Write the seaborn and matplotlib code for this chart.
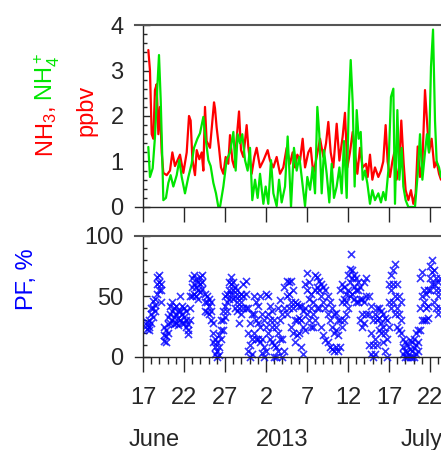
import numpy as np
import pandas as pd
import matplotlib
matplotlib.use("Agg")
import matplotlib.pyplot as plt
import seaborn as sns
from matplotlib.ticker import MultipleLocator, FixedLocator

# ---------------- data (days since 17 June 2013) ----------------
nh3_day = [0.65, 0.85, 1.06, 1.26, 1.46, 1.67, 1.87, 2.07, 2.28, 2.48, 2.89, 3.29, 3.58, 3.9,
           4.51, 4.92, 5.33, 5.61, 5.81, 6.02, 6.34, 6.55, 6.87, 7.16, 7.36, 7.56, 7.76, 8.17,
           8.66, 8.78, 8.98, 9.27, 9.51, 9.8, 10.08, 10.4, 10.61, 10.9, 11.14, 11.42, 11.71,
           11.95, 12.24, 12.64, 12.85, 13.25, 13.58, 13.86, 14.27, 14.68, 15.2, 15.49, 15.9,
           16.3, 16.71, 17.11, 17.52, 17.93, 18.25, 18.54, 18.82, 19.15, 19.47, 19.76, 20.16,
           20.45, 20.77, 21.18, 21.59, 22.0, 22.32, 22.6, 22.89, 23.21, 23.62, 23.95, 24.35,
           24.63, 24.92, 25.24, 25.57, 25.85, 26.14, 26.46, 26.79, 27.2, 27.4, 27.68, 27.97,
           28.29, 28.7, 29.02, 29.3, 29.59, 29.83, 30.12, 30.41, 30.65, 30.93, 31.22, 31.5,
           31.79, 32.03, 32.36, 32.68, 32.97, 33.25, 33.5, 33.78, 34.07, 34.39, 34.63, 34.88,
           35.2, 35.53, 35.81, 36.1, 36.34]
nh3_ppbv = [3.45, 3.0, 1.6, 1.5, 2.57, 2.7, 1.6, 2.2, 1.2, 0.75, 0.7, 0.8, 1.2, 0.9,
            1.15, 0.75, 1.2, 2.0, 1.9, 1.05, 0.7, 1.25, 1.05, 1.2, 0.8, 2.2, 1.45, 1.3,
            2.3, 2.17, 1.75, 1.3, 0.87, 0.73, 1.1, 0.95, 1.58, 1.02, 0.87, 1.5, 2.1,
            1.25, 1.1, 1.8, 1.3, 0.73, 1.1, 1.3, 0.87, 1.02, 1.25, 1.02, 0.87,
            1.1, 0.73, 0.87, 1.3, 0.95, 1.2, 0.87, 1.15, 1.02, 1.5, 0.87, 1.2,
            1.3, 0.73, 1.1, 1.5, 1.1, 1.4, 1.87, 1.2, 0.87, 1.83, 1.02, 1.55,
            2.07, 0.87, 1.2, 1.65, 1.2, 0.73, 1.3, 0.87, 0.95, 0.66, 1.15, 0.6,
            0.87, 0.66, 0.8, 1.0, 1.8, 1.0, 0.66, 1.0, 1.2, 0.6, 0.87, 1.9,
            0.95, 0.37, 0.15, 0.37, 0.07, 0.3, 1.33, 0.66, 0.95, 2.57, 1.9, 1.2,
            1.5, 0.87, 1.0, 0.73, 0.6]

nh4_day = [0.65, 0.85, 1.18, 1.46, 1.75, 1.95, 2.16, 2.32, 2.48, 2.8, 3.09, 3.37, 3.7, 4.11,
           4.43, 4.72, 5.12, 5.53, 5.93, 6.22, 6.63, 6.95, 7.36, 7.56, 7.97, 8.25, 8.58, 8.9,
           9.19, 9.39, 9.8, 10.2, 10.61, 11.02, 11.3, 11.54, 11.83, 12.11, 12.44, 12.76, 13.05,
           13.33, 13.66, 13.98, 14.27, 14.68, 14.96, 15.28, 15.61, 15.9, 16.3, 16.59, 16.91,
           17.32, 17.64, 17.85, 18.05, 18.41, 18.74, 19.07, 19.35, 19.76, 20.04, 20.37, 20.69,
           20.98, 21.26, 21.5, 21.79, 22.07, 22.4, 22.72, 23.01, 23.29, 23.62, 23.95, 24.23,
           24.51, 24.84, 25.08, 25.33, 25.57, 25.81, 26.06, 26.3, 26.55, 26.79, 27.07, 27.36,
           27.68, 27.97, 28.29, 28.7, 29.02, 29.3, 29.59, 29.92, 30.24, 30.53, 30.73, 31.02,
           31.26, 31.54, 31.75, 32.03, 32.36, 32.76, 33.17, 33.5, 33.78, 34.07, 34.39, 34.63,
           34.88, 35.12, 35.37, 35.61, 35.81, 36.1, 36.34]
nh4_ppbv = [1.32, 0.66, 0.85, 1.54, 2.64, 3.34, 2.35, 1.3, 0.15, 0.2, 0.53, 0.7, 0.45, 0.7,
            1.03, 0.66, 0.3, 0.66, 0.95, 1.3, 1.5, 1.62, 1.98, 1.62, 1.03, 0.9, 0.53, 0.3,
            0.0, 0.0, 0.45, 1.03, 1.2, 1.65, 0.8, 1.6, 1.4, 1.6, 1.03, 0.8, 1.3,
            0.15, 0.6, 0.2, 0.73, 0.07, 0.45, 0.07, 1.03, 0.3, 0.02, 0.6, 0.1,
            0.45, 1.55, 0.8, 0.0, 1.3, 0.8, 1.1, 0.66, 0.02, 0.66, 0.38, 0.87,
            0.3, 2.2, 1.6, 0.3, 1.25, 0.73, 0.1, 0.95, 0.2, 0.45, 0.87, 0.3,
            1.45, 0.2, 2.13, 3.23, 2.3, 0.45, 2.13, 1.5, 1.65, 0.6, 0.8, 0.52,
            0.07, 0.37, 0.15, 0.3, 0.1, 0.33, 0.15, 0.8, 2.42, 2.6, 0.07, 2.13,
            0.6, 1.3, 0.45, 0.15, 0.0, 0.0, 0.0, 0.73, 1.6, 0.6, 1.2, 1.6,
            1.2, 3.08, 3.9, 1.9, 1.0, 0.87, 0.66]

# PF (%) read every 6 h: central value and lower/upper edge of the point cloud
pf_day = np.arange(0.5, 36.26, 0.25)
pf_mid = [26, 25,
          35, 40, 43, 60,  62, 55, 18, 17,  27, 35, 38, 33,  35, 32, 38, 35,
          33, 30, 22, 40,  58, 60, 58, 55,  60, 62, 45, 45,  42, 38, 20, 8,
          5, 8, 22, 30,    42, 45, 55, 60,  55, 50, 45, 40,  45, 50, 52, 20,
          10, 15, 35, 30,  28, 25, 15, 8,   25, 35, 30, 25,  10, 8, 20, 30,
          15, 40, 50, 52,  45, 40, 30, 30,  32, 30, 25, 40,  55, 48, 40, 35,
          55, 58, 55, 50,  45, 40, 35, 30,  25, 20, 22, 18,  30, 45, 48, 45,
          55, 62, 65, 58,  55, 55, 48, 35,  45, 50, 35, 20,  10, 15, 30, 32,
          28, 25, 20, 15,  45, 55, 60, 50,  40, 35, 30, 8,   5, 4, 6, 5,
          7, 10, 12, 40,   50, 45, 40, 42,  65, 70, 60, 55,
          50, 55]
pf_lo = [23, 22,
         28, 33, 38, 52,  55, 45, 13, 12,  20, 28, 30, 27,  28, 26, 30, 28,
         28, 25, 19, 30,  50, 52, 50, 48,  54, 56, 38, 37,  35, 30, 12, 2,
         0, 1, 15, 22,    33, 38, 48, 52,  48, 40, 38, 28,  35, 40, 40, 5,
         0, 2, 20, 15,    15, 12, 3, 0,    5, 20, 15, 12,   0, 0, 5, 15,
         0, 5, 35, 40,    25, 20, 12, 18,  20, 8, 2, 22,    35, 30, 25, 25,
         30, 40, 40, 25,  18, 14, 12, 8,   6, 5, 8, 5,      8, 25, 30, 35,
         40, 50, 52, 48,  45, 45, 30, 25,  28, 35, 10, 2,   0, 2, 10, 22,
         20, 12, 5, 0,    25, 40, 45, 35,  25, 22, 20, 2,   0, 0, 0, 0,
         0, 2, 5, 22,     30, 30, 30, 32,  55, 60, 45, 40,
         35, 40]
pf_hi = [29, 30,
         40, 46, 48, 66,  68, 60, 25, 22,  33, 42, 45, 40,  42, 38, 50, 42,
         40, 38, 27, 50,  65, 68, 64, 62,  66, 68, 52, 50,  48, 45, 28, 15,
         12, 18, 30, 38,  50, 52, 62, 66,  62, 58, 55, 50,  52, 60, 63, 40,
         28, 35, 50, 45,  42, 50, 35, 30,  52, 50, 42, 38,  30, 25, 40, 47,
         35, 58, 63, 62,  63, 55, 45, 44,  42, 42, 38, 60,  69, 62, 52, 45,
         68, 66, 63, 60,  58, 55, 50, 45,  40, 35, 36, 30,  55, 60, 58, 52,
         68, 73, 72, 68,  65, 62, 58, 48,  62, 65, 50, 42,  30, 35, 40, 40,
         38, 35, 32, 30,  60, 68, 72, 77,  60, 50, 45, 15,  12, 10, 14, 12,
         15, 20, 22, 65,  70, 55, 52, 55,  75, 80, 72, 65,
         62, 65]
pf_extra_day = [25.4]
pf_extra_val = [85]

xtick_days = [0, 5, 10, 15, 20, 25, 30, 35]
xtick_labels = ["17", "22", "27", "2", "7", "12", "17", "22"]
month_labels = ["June", "2013", "July"]

# ---------------- figure ----------------
sns.set_style("ticks")
plt.rcParams['font.family'] = ['Liberation Sans', 'DejaVu Sans']
plt.rcParams['mathtext.fontset'] = 'custom'
plt.rcParams['mathtext.rm'] = 'Liberation Sans'
plt.rcParams['mathtext.default'] = 'regular'

W, H = 441, 450
fig = plt.figure(figsize=(W / 100, H / 100), dpi=100)
fig.patch.set_facecolor('white')

def fx(px):
    return px / W

def fy(py):
    return 1 - py / H

x_left_px, x0_px, ppd = 135, 143, 8.2
xlim = ((x_left_px - x0_px) / ppd, (W - x0_px) / ppd)

ax1 = fig.add_axes([fx(x_left_px), fy(207), fx(W - x_left_px), (207 - 25) / H])
ax2 = fig.add_axes([fx(x_left_px), fy(356.7), fx(W - x_left_px), (356.7 - 236) / H])

FS = 17
RED = '#ff0000'
GREEN = '#00e600'
BLUE = '#0000ff'

df_nh3 = pd.DataFrame({'day': nh3_day, 'ppbv': nh3_ppbv})
df_nh4 = pd.DataFrame({'day': nh4_day, 'ppbv': nh4_ppbv})
sns.lineplot(data=df_nh3, x='day', y='ppbv', ax=ax1, color=RED, lw=1.6,
             estimator=None, sort=False)
sns.lineplot(data=df_nh4, x='day', y='ppbv', ax=ax1, color=GREEN, lw=1.6,
             estimator=None, sort=False)

df_pf = pd.DataFrame({
    'day': np.concatenate([pf_day, pf_day, pf_day, pf_extra_day]),
    'pf': np.concatenate([pf_mid, pf_lo, pf_hi, pf_extra_val]),
})
sns.scatterplot(data=df_pf, x='day', y='pf', ax=ax2, marker='x', color=BLUE,
                s=26, linewidth=1.2, alpha=0.8, clip_on=False)

for ax in (ax1, ax2):
    ax.set_xlim(*xlim)
    ax.spines['right'].set_visible(False)
    ax.spines['left'].set_position(('data', 0))
    ax.spines['left'].set_linewidth(1.0)
    ax.spines['bottom'].set_linewidth(1.0)
    ax.spines['top'].set_linewidth(1.5)
    ax.spines['top'].set_color('#555555')
    ax.set_xlabel('')
    ax.set_ylabel('')
    ax.xaxis.set_major_locator(FixedLocator(xtick_days))
    ax.tick_params(axis='y', which='both', direction='in', labelsize=FS, pad=14)
    ax.tick_params(axis='y', which='major', length=5, width=1)
    ax.tick_params(axis='y', which='minor', length=3, width=1)
    ax.tick_params(axis='x', which='major', direction='out', length=11, width=1)

ax1.set_ylim(0, 4)
ax1.yaxis.set_major_locator(MultipleLocator(1))
ax1.yaxis.set_minor_locator(MultipleLocator(0.2))
ax1.tick_params(axis='x', labelbottom=False)

ax2.set_ylim(0, 100)
ax2.yaxis.set_major_locator(MultipleLocator(50))
ax2.yaxis.set_minor_locator(MultipleLocator(10))
ax2.xaxis.set_minor_locator(MultipleLocator(1))
ax2.tick_params(axis='x', which='minor', direction='out', length=5, width=1)
ax2.set_xticklabels(xtick_labels)
ax2.tick_params(axis='x', labelsize=FS, pad=11)

# month / year labels
for lab, px in zip(month_labels, [154, 282, 422]):
    fig.text(fx(px), fy(446), lab, ha='center', va='baseline', fontsize=FS)

# multi-coloured y label of the upper panel
fig.canvas.draw()
t1 = fig.text(fx(53), fy(157), "NH$_3$,", color=RED, rotation=90,
              rotation_mode='anchor', ha='left', va='baseline', fontsize=FS)
fig.canvas.draw()
bb = t1.get_window_extent()
fig.text(fx(53), (bb.y1 + 5) / H, "NH$_4^+$", color=GREEN, rotation=90,
         rotation_mode='anchor', ha='left', va='baseline', fontsize=FS)
fig.text(fx(92), fy(110), "ppbv", color=RED, rotation=90,
         rotation_mode='anchor', ha='center', va='baseline', fontsize=FS)

# y label of lower panel
fig.text(fx(33), fy(279), "PF, %", color=BLUE, rotation=90,
         rotation_mode='anchor', ha='center', va='baseline', fontsize=FS)

fig.savefig('out.png', dpi=100, facecolor='white')
